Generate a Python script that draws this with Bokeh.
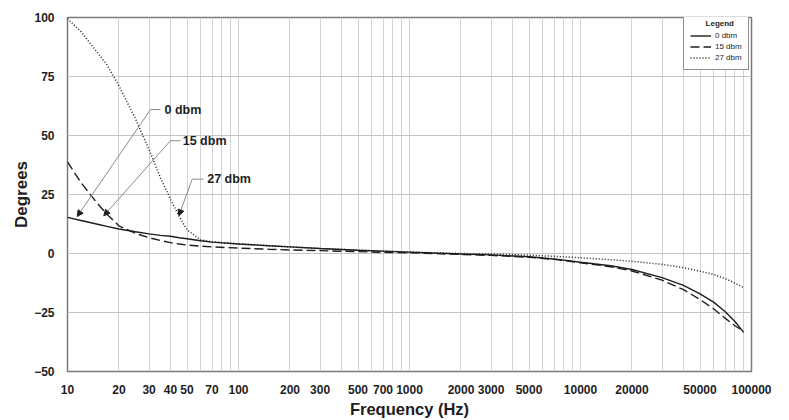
from bokeh.plotting import figure
from bokeh.models import (Range1d, FixedTicker, PrintfTickFormatter, Legend, LegendItem,
                          Label, Arrow, NormalHead)
from bokeh.embed import file_html
from bokeh.resources import INLINE

# ---------------- data ----------------
freq = [10, 12, 15, 17, 20, 25, 30, 35, 40, 45, 50, 60, 70, 100, 150, 200, 300, 500, 700,
        1000, 2000, 3000, 5000, 7000, 10000, 15000, 20000, 30000, 40000, 50000, 60000,
        70000, 80000, 90000]
deg_0dbm = [15.3, 14.0, 12.4, 11.5, 10.4, 9.2, 8.3, 7.7, 7.3, 6.7, 6.25, 5.4, 4.8, 4.05, 3.3,
            2.8, 2.1, 1.4, 1.0, 0.6, -0.2, -0.6, -1.4, -2.3, -3.7, -5.2, -6.8, -10.2, -13.5,
            -17.1, -20.6, -24.6, -28.8, -33.4]
deg_15dbm = [38.8, 30.0, 21.1, 16.6, 11.7, 8.5, 6.7, 5.5, 4.6, 4.0, 3.6, 3.1, 2.8, 2.3, 1.8,
             1.5, 1.2, 0.8, 0.5, 0.3, -0.4, -0.8, -1.6, -2.5, -3.9, -5.6, -7.4, -11.3, -15.3,
             -19.5, -23.4, -27.4, -30.6, -33.0]
deg_27dbm = [99.5, 94.0, 85.0, 80.0, 71.0, 57.0, 44.0, 32.0, 23.0, 15.7, 10.0, 5.8, 5.0, 4.1,
             3.3, 2.8, 2.1, 1.4, 1.0, 0.6, 0.0, -0.2, -0.7, -1.2, -1.8, -2.6, -3.3, -4.6, -6.0,
             -7.5, -8.9, -10.6, -12.5, -14.5]
series_names = ["0 dbm", "15 dbm", "27 dbm"]
legend_title = "Legend"
x_tick_labels = [10, 20, 30, 40, 50, 70, 100, 200, 300, 500, 700, 1000, 2000, 3000, 5000,
                 10000, 20000, 50000, 100000]
y_ticks = [-50, -25, 0, 25, 50, 75, 100]

# annotation anchors (tip on curve, elbow, end of horizontal leader)
ann_tip_x = [11.4, 16.3, 44.8]
ann_tip_y = [15.7, 16.0, 16.0]
ann_elbow_x = [30.6, 40.0, 53.6]
ann_end_x = [35.0, 45.8, 62.4]
ann_y = [61.0, 47.8, 31.5]
ann_text_x = [36.9, 47.2, 65.6]

FONT = "Liberation Sans"
INK = "#1e1e1e"

p = figure(width=789, height=420, x_axis_type="log",
           x_range=Range1d(10, 100000), y_range=Range1d(-50, 100),
           output_backend="svg", toolbar_location=None,
           min_border_left=67, min_border_right=38, min_border_top=17, min_border_bottom=47)
p.background_fill_color = "white"
p.border_fill_color = "white"
p.outline_line_color = "#7a7a7a"
p.outline_line_width = 1.5

# axes
p.xaxis.ticker = FixedTicker(ticks=x_tick_labels)
p.xaxis.formatter = PrintfTickFormatter(format="%d")
p.yaxis.ticker = FixedTicker(ticks=y_ticks)
for ax in (p.xaxis[0], p.yaxis[0]):
    ax.axis_line_color = None
    ax.major_tick_line_color = None
    ax.minor_tick_line_color = None
    ax.major_label_text_font = FONT
    ax.major_label_text_font_style = "bold"
    ax.major_label_text_font_size = "12px"
    ax.major_label_text_color = INK
    ax.axis_label_text_font = FONT
    ax.axis_label_text_font_style = "bold"
    ax.axis_label_text_color = INK
p.xaxis.major_label_standoff = 7
p.yaxis.major_label_standoff = 7
p.xaxis.axis_label = "Frequency (Hz)"
p.xaxis.axis_label_text_font_size = "16.5px"
p.xaxis.axis_label_standoff = 3
p.yaxis.axis_label = "Degrees"
p.yaxis.axis_label_text_font_size = "17px"
p.yaxis.axis_label_standoff = 0

# grids
grid_x = [m * 10 ** d for d in range(1, 5) for m in range(1, 10)] + [100000]
p.xgrid.ticker = FixedTicker(ticks=grid_x)
p.xgrid.grid_line_color = "#d2d2d2"
p.xgrid.grid_line_width = 1
p.ygrid.ticker = FixedTicker(ticks=y_ticks)
p.ygrid.grid_line_color = "#c4c4c4"
p.ygrid.grid_line_width = 1

# curves
r0 = p.line(freq, deg_0dbm, line_color=INK, line_width=1.4)
r1 = p.line(freq, deg_15dbm, line_color=INK, line_width=1.4, line_dash="9 4")
r2 = p.line(freq, deg_27dbm, line_color=INK, line_width=1.5, line_dash="1 2")

# callouts
for i, name in enumerate(series_names):
    p.segment(x0=[ann_elbow_x[i]], y0=[ann_y[i]], x1=[ann_end_x[i]], y1=[ann_y[i]],
              line_color="#8a8a8a", line_width=1)
    p.add_layout(Arrow(end=NormalHead(size=6, fill_color=INK, line_color=INK, line_width=1),
                       x_start=ann_elbow_x[i], y_start=ann_y[i],
                       x_end=ann_tip_x[i], y_end=ann_tip_y[i],
                       line_color="#8a8a8a", line_width=1))
    p.add_layout(Label(x=ann_text_x[i], y=ann_y[i], text=name, text_font=FONT,
                       text_font_style="bold", text_font_size="12.5px", text_color=INK,
                       text_align="left", text_baseline="middle"))

# legend (title nudged towards the centre of the box with no-break spaces)
legend = Legend(items=[LegendItem(label=n, renderers=[r]) for n, r in zip(series_names, [r0, r1, r2])],
                location=(616, 301), title="\u00a0" * 7 + legend_title,
                title_text_font=FONT, title_text_font_size="8px", title_text_font_style="bold",
                title_text_color=INK, title_standoff=2,
                label_text_font=FONT, label_text_font_size="8px", label_text_color=INK,
                glyph_width=21, glyph_height=11, label_height=11, label_standoff=4,
                spacing=0, padding=6, margin=0,
                border_line_color="#222222", border_line_width=1,
                background_fill_color="white", background_fill_alpha=1)
p.add_layout(legend)

open("out.html", "w").write(file_html(p, INLINE))
